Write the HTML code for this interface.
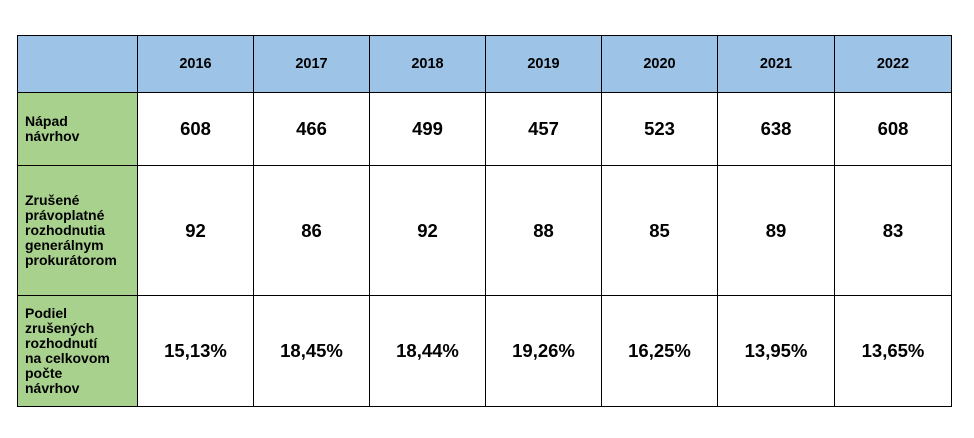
<!DOCTYPE html>
<html><head><meta charset="utf-8"><style>
body{margin:0;width:974px;height:438px;background:#fff;font-family:"Liberation Sans",Arial,sans-serif;position:relative;overflow:hidden}
.c{position:absolute;box-sizing:border-box;border:1px solid #000;display:flex;align-items:center;justify-content:center;font-weight:bold;color:#000}
.h{background:#9dc3e6;font-size:14.5px}
.l{background:#a9d18e;font-size:14px;line-height:15px;justify-content:flex-start;padding-left:7px}
.v{background:#fff;font-size:18.5px}
</style></head><body>
<div id="t"></div>
<script>
const years=["2016","2017","2018","2019","2020","2021","2022"];
const rowLabels=["Nápad<br>návrhov","Zrušené<br>právoplatné<br>rozhodnutia<br>generálnym<br>prokurátorom","Podiel<br>zrušených<br>rozhodnutí<br>na celkovom<br>počte<br>návrhov"];
const filed=["608","466","499","457","523","638","608"];
const annulled=["92","86","92","88","85","89","83"];
const share=["15,13%","18,45%","18,44%","19,26%","16,25%","13,95%","13,65%"];
const rowsData=[filed,annulled,share];
const xs=[17,137,253,369,485,601,717,834,951];
const ys=[35,92,165,295,406];
const t=document.getElementById('t');
function cell(cls,x0,x1,y0,y1,html,name){
 const d=document.createElement('div');
 d.className='c '+cls;
 d.style.left=x0+'px';d.style.top=y0+'px';
 d.style.width=(x1-x0+1)+'px';d.style.height=(y1-y0+1)+'px';
 d.innerHTML=html;
 
 
 t.appendChild(d);
}
cell('h',xs[0],xs[1],ys[0],ys[1],'','header-corner');
years.forEach((y,i)=>cell('h',xs[i+1],xs[i+2],ys[0],ys[1],y,'header-'+y));
rowsData.forEach((r,ri)=>{
 cell('l',xs[0],xs[1],ys[ri+1],ys[ri+2],rowLabels[ri],'row-label-'+(ri+1));
 r.forEach((v,i)=>cell('v',xs[i+1],xs[i+2],ys[ri+1],ys[ri+2],v,'value-r'+(ri+1)+'-'+years[i]));
});
</script>
</body></html>
